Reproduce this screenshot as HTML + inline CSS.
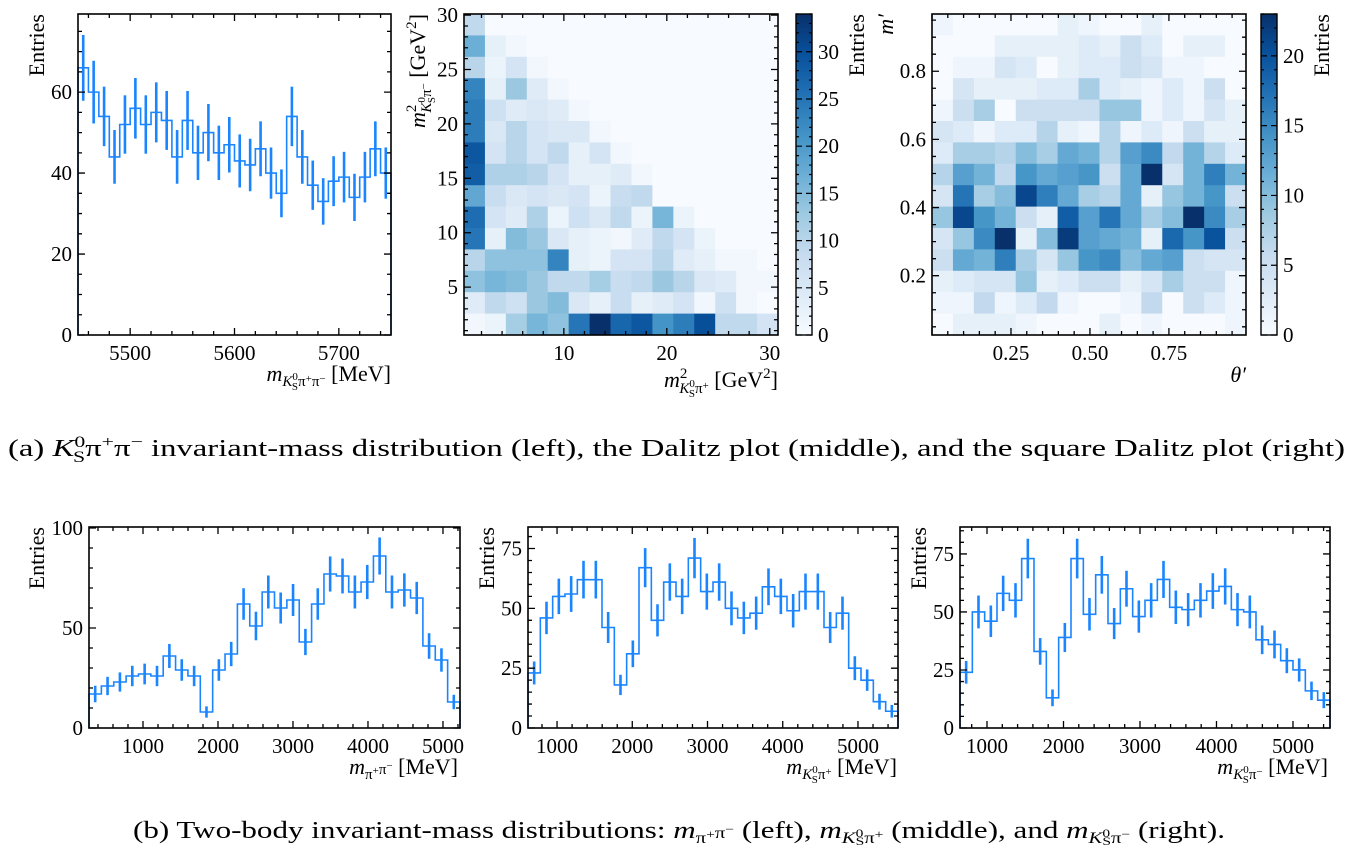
<!DOCTYPE html>
<html><head><meta charset="utf-8">
<style>
html,body{margin:0;padding:0;background:#fff;}
svg{display:block;font-family:"Liberation Serif",serif;}
</style></head>
<body>
<svg id="fig" width="1352" height="858" viewBox="0 0 1352 858" xmlns="http://www.w3.org/2000/svg">
<rect width="1352" height="858" fill="#fff"/>
<g id="layer"></g>
<text x="8" y="456" font-size="24" textLength="1337" lengthAdjust="spacingAndGlyphs">(a) <tspan font-style="italic">K</tspan><tspan font-size="16" dy="-9">0</tspan><tspan font-size="16" dx="-9" dy="15">S</tspan><tspan dy="-6">π</tspan><tspan font-size="16" dy="-9">+</tspan><tspan dy="9">π</tspan><tspan font-size="16" dy="-9">−</tspan><tspan dy="9"> invariant-mass distribution (left), the Dalitz plot (middle), and the square Dalitz plot (right)</tspan></text>
<text x="133" y="838" font-size="24" textLength="1092" lengthAdjust="spacingAndGlyphs">(b) Two-body invariant-mass distributions: <tspan font-style="italic">m</tspan><tspan font-size="16" dy="5">π</tspan><tspan font-size="12" dy="-5">+</tspan><tspan font-size="16">π</tspan><tspan font-size="12" dy="-5">−</tspan><tspan dy="5"> (left), </tspan><tspan font-style="italic">m</tspan><tspan font-size="16" font-style="italic" dy="5">K</tspan><tspan font-size="12" dy="-6">0</tspan><tspan font-size="12" dx="-6" dy="8">S</tspan><tspan font-size="16" dy="-2">π</tspan><tspan font-size="12" dy="-5">+</tspan><tspan dy="0"> (middle), and </tspan><tspan font-style="italic">m</tspan><tspan font-size="16" font-style="italic" dy="5">K</tspan><tspan font-size="12" dy="-6">0</tspan><tspan font-size="12" dx="-6" dy="8">S</tspan><tspan font-size="16" dy="-2">π</tspan><tspan font-size="12" dy="-5">−</tspan><tspan dy="0"> (right).</tspan></text>
</svg>
<script>
// ---- data ----
const massVals = [66,60,54,44,52,56,52,55,53,44,53,45,50,45,47,43,42,46,40,35,54,44,37,33,38,39,34,39,46,40];
const pipiVals = [17,21,23,26,27,26,36,29,26,8,29,37,62,51,68,60,64,43,62,77,76,68,73,86,68,69,65,41,34,13];
const kspipVals = [23,46,55,56,62,62,42,18,31,67,45,61,55,71,57,61,50,46,48,59,55,49,57,57,42,48,25,20,11,7];
const kspimVals = [24,50,46,58,55,73,33,13,39,73,49,66,45,60,48,55,64,52,51,55,59,61,51,50,38,36,29,25,16,12];
const dalitzGrid = [
[9,0,0,0,0,0,0,0,0,0,0,0,0,0,0],
[17,3,1,0,0,0,0,0,0,0,0,0,0,0,0],
[10,2,6,1,0,0,0,0,0,0,0,0,0,0,0],
[23,3,13,4,1,0,0,0,0,0,0,0,0,0,0],
[24,7,4,5,4,1,0,0,0,0,0,0,0,0,0],
[24,5,10,6,5,5,1,0,0,0,0,0,0,0,0],
[29,6,10,6,9,3,6,1,0,0,0,0,0,0,0],
[28,11,11,10,6,3,3,4,1,0,0,0,0,0,0],
[18,8,5,6,5,6,2,8,9,0,0,0,0,0,0],
[26,6,4,11,2,7,5,9,2,16,2,0,0,0,0],
[25,3,15,13,5,3,2,1,4,9,6,2,0,0,0],
[10,14,14,14,23,3,2,6,6,10,4,3,1,1,0],
[14,16,15,13,9,9,12,8,9,13,10,5,4,1,1],
[4,9,7,13,15,5,3,8,3,4,6,1,7,1,0],
[1,2,12,16,14,25,34,27,29,21,24,30,9,9,6]];
const sqGrid = [
[1,0,0,0,0,0,2,1,0,0,2,0,0,0,0],
[0,0,0,2,2,2,2,3,2,5,3,0,2,2,0],
[0,1,1,4,3,0,2,3,3,5,4,1,1,0,0],
[0,4,2,2,2,3,3,8,3,2,1,3,1,5,0],
[1,5,8,0,5,5,5,5,9,9,1,3,1,4,2],
[4,3,1,3,3,7,2,1,7,1,3,1,5,2,2],
[3,8,8,7,10,8,12,11,7,13,15,6,11,7,3],
[7,13,11,6,14,12,13,14,5,12,23,4,11,16,11],
[4,17,8,10,21,16,12,8,7,12,2,9,11,14,5],
[9,21,14,11,5,2,19,13,17,12,8,10,23,15,8],
[4,9,15,23,2,10,22,13,12,11,2,18,14,20,5],
[5,12,11,16,8,4,9,14,15,10,12,13,5,4,4],
[2,3,4,4,9,2,3,5,5,2,4,8,5,5,1],
[1,1,6,1,3,6,1,0,0,1,6,0,5,3,1],
[0,2,2,2,1,0,0,0,2,0,1,0,0,0,1]];
const massTicks = [5500,5600,5700];
const bottomTicks = [1000,2000,3000,4000,5000];

// ---- helpers ----
const NS='http://www.w3.org/2000/svg';
const layer=document.getElementById('layer');
function mk(tag,attrs,parent){const e=document.createElementNS(NS,tag);for(const k in attrs)e.setAttribute(k,attrs[k]);(parent||layer).appendChild(e);return e;}
const BLUE='#1a85ff';
const TF=21;
const stops=[[0,[247,251,255]],[0.125,[222,235,247]],[0.25,[198,219,239]],[0.375,[158,202,225]],[0.5,[107,174,214]],[0.625,[66,146,198]],[0.75,[33,113,181]],[0.875,[8,81,156]],[1,[8,48,107]]];
function blues(t){t=Math.max(0,Math.min(1,t));for(let i=1;i<stops.length;i++){if(t<=stops[i][0]){const a=stops[i-1],b=stops[i];const f=(t-a[0])/(b[0]-a[0]);const c=a[1].map((v,j)=>Math.round(v+(b[1][j]-v)*f));return `rgb(${c[0]},${c[1]},${c[2]})`;}}return 'rgb(8,48,107)';}

function axes(p,name){
  const g=mk('g',{});
  
  
  p.g=g;
  p.sx=v=>p.x0+(v-p.xmin)/(p.xmax-p.xmin)*(p.x1-p.x0);
  p.sy=v=>p.y1-(v-p.ymin)/(p.ymax-p.ymin)*(p.y1-p.y0);
  return g;
}
function frame(p){
  const g=p.g;
  mk('rect',{x:p.x0,y:p.y0,width:p.x1-p.x0,height:p.y1-p.y0,fill:'none',stroke:'#000','stroke-width':1.6},g);
  let d='';
  const eps=1e-9;
  for(let v=Math.ceil((p.xmin-eps)/p.xminor)*p.xminor;v<=p.xmax+eps;v+=p.xminor){
    const x=p.sx(v);const maj=Math.abs(v/p.xmajor-Math.round(v/p.xmajor))<1e-6;const L=maj?7:4;
    d+=`M${x},${p.y1}v${-L}M${x},${p.y0}v${L}`;
  }
  for(let v=Math.ceil((p.ymin-eps)/p.yminor)*p.yminor;v<=p.ymax+eps;v+=p.yminor){
    const y=p.sy(v);const maj=Math.abs(v/p.ymajor-Math.round(v/p.ymajor))<1e-6;const L=maj?7:4;
    d+=`M${p.x0},${y}h${L}M${p.x1},${y}h${-L}`;
  }
  mk('path',{d,stroke:'#000','stroke-width':1.3,fill:'none'},g);
  p.xt.forEach(v=>{const t=mk('text',{x:p.sx(v),y:p.y1+25,'font-size':TF,'text-anchor':'middle'},g);t.textContent=p.xfmt?p.xfmt(v):v;
    
    });
  p.yt.forEach(v=>{const t=mk('text',{x:p.x0-6,y:p.sy(v)+7,'font-size':TF,'text-anchor':'end'},g);t.textContent=p.yfmt?p.yfmt(v):v;
    
    });
}
function hist(p,vals){
  const n=vals.length,w=(p.hmax-p.hmin)/n;
  let d=`M${p.sx(p.hmin)},${p.sy(0)}`;
  vals.forEach((v,i)=>{d+=`V${p.sy(v)}H${p.sx(p.hmin+(i+1)*w)}`;});
  d+=`V${p.sy(0)}`;
  const path=mk('path',{d,stroke:BLUE,'stroke-width':1.6,fill:'none'},p.g);
  
  
  vals.forEach((v,i)=>{
    const xc=p.sx(p.hmin+(i+0.5)*w),e=Math.sqrt(v);
    const l=mk('line',{x1:xc,x2:xc,y1:p.sy(v-e),y2:p.sy(Math.min(v+e,p.ymax)),stroke:BLUE,'stroke-width':2.6},p.g);
    
    
  });
}
function heat(p,grid,vmax){
  const nr=grid.length,nc=grid[0].length;
  const cw=(p.x1-p.x0)/nc,ch=(p.y1-p.y0)/nr;
  grid.forEach((row,r)=>row.forEach((v,c)=>{
    const rc=mk('rect',{x:p.x0+c*cw,y:p.y0+r*ch,width:cw+0.4,height:ch+0.4,fill:blues(v/vmax)},p.g);
    
    
  }));
}
function colorbar(cx0,cx1,y0,y1,vmax,ticks,id,name){
  const g=mk('g',{});
  
  
  const defs=mk('defs',{},g);
  const lg=mk('linearGradient',{id,x1:0,y1:1,x2:0,y2:0},defs);
  stops.forEach(s=>mk('stop',{offset:s[0],'stop-color':`rgb(${s[1].join(',')})`},lg));
  mk('rect',{x:cx0,y:y0,width:cx1-cx0,height:y1-y0,fill:`url(#${id})`,stroke:'#000','stroke-width':1.4},g);
  const sy=v=>y1-v/vmax*(y1-y0);
  let d='';
  for(let v=0;v<=vmax;v+=1){const y=sy(v);const L=v%5===0?6:3;d+=`M${cx0},${y}h${L}M${cx1},${y}h${-L}`;}
  mk('path',{d,stroke:'#000','stroke-width':1.2},g);
  ticks.forEach(v=>{const t=mk('text',{x:cx1+6,y:sy(v)+7,'font-size':TF},g);t.textContent=v;});
  const lab=mk('text',{'font-size':22,'text-anchor':'end',transform:`translate(${cx1+52},${y0}) rotate(-90)`},g);
  lab.textContent='Entries';
}
function ylabel(x,y,html,name,size){
  const t=mk('text',{'font-size':size||22,'text-anchor':'end',transform:`translate(${x},${y}) rotate(-90)`});
  t.innerHTML=html;
  
  
}
function xlabel(x,y,html,name){
  const t=mk('text',{x,y,'font-size':22,'text-anchor':'end'});
  t.innerHTML=html;
  
  
}

// ---- panel 1: B mass ----
const p1={x0:78,x1:391,y0:14,y1:335,xmin:5450,xmax:5750,ymin:0,ymax:79.3,hmin:5450,hmax:5750,xmajor:100,xminor:20,ymajor:20,yminor:5,xt:massTicks,yt:[0,20,40,60]};
axes(p1,'mass-histogram-panel');hist(p1,massVals);frame(p1);
ylabel(44,14,'Entries','y-axis-title');
xlabel(391,381,'<tspan font-style="italic">m</tspan><tspan font-size="15" font-style="italic" dy="5">K</tspan><tspan font-size="11" dy="-6">0</tspan><tspan font-size="11" dx="-6" dy="10">S</tspan><tspan font-size="15" dy="-4">π</tspan><tspan font-size="11" dy="-4">+</tspan><tspan font-size="15" dy="4">π</tspan><tspan font-size="11" dy="-4">−</tspan><tspan dy="-1"> [MeV]</tspan>','x-axis-title');

// ---- panel 2: Dalitz ----
const p2={x0:464,x1:778,y0:14,y1:335,xmin:0.3,xmax:30.8,ymin:0.6,ymax:30.1,xmajor:10,xminor:2,ymajor:5,yminor:1,xt:[10,20,30],yt:[5,10,15,20,25,30]};
axes(p2,'dalitz-plot-panel');heat(p2,dalitzGrid,34);frame(p2);
colorbar(796,812,14,335,34,[0,5,10,15,20,25,30],'cb1','dalitz-colorbar');
ylabel(425,14,'<tspan font-style="italic">m</tspan><tspan font-size="15" dy="-9">2</tspan><tspan font-size="15" font-style="italic" dx="-8" dy="15">K</tspan><tspan font-size="11" dy="-6">0</tspan><tspan font-size="11" dx="-6" dy="10">S</tspan><tspan font-size="15" dy="-4">π</tspan><tspan font-size="11" dy="-4">−</tspan><tspan dy="-2"> [GeV</tspan><tspan font-size="15" dy="-9">2</tspan><tspan dy="9">]</tspan>','y-axis-title');
xlabel(778,387,'<tspan font-style="italic">m</tspan><tspan font-size="15" dy="-9">2</tspan><tspan font-size="15" font-style="italic" dx="-8" dy="15">K</tspan><tspan font-size="11" dy="-6">0</tspan><tspan font-size="11" dx="-6" dy="10">S</tspan><tspan font-size="15" dy="-4">π</tspan><tspan font-size="11" dy="-4">+</tspan><tspan dy="-2"> [GeV</tspan><tspan font-size="15" dy="-9">2</tspan><tspan dy="9">]</tspan>','x-axis-title');

// ---- panel 3: square Dalitz ----
const p3={x0:932,x1:1246,y0:14,y1:335,xmin:0,xmax:0.994,ymin:0.026,ymax:0.968,xmajor:0.25,xminor:0.05,ymajor:0.2,yminor:0.05,xt:[0.25,0.5,0.75],yt:[0.2,0.4,0.6,0.8],xfmt:v=>v.toFixed(2),yfmt:v=>v.toFixed(1)};
axes(p3,'square-dalitz-panel');heat(p3,sqGrid,23);frame(p3);
colorbar(1261,1277,14,335,23,[0,5,10,15,20],'cb2','square-dalitz-colorbar');
ylabel(893,14,'<tspan font-style="italic">m′</tspan>','y-axis-title');
xlabel(1246,382,'<tspan font-style="italic">θ′</tspan>','x-axis-title');

// ---- bottom panels ----
const p4={x0:89,x1:460,y0:527,y1:728,xmin:280,xmax:5227,ymin:0,ymax:100.5,hmin:280,hmax:5227,xmajor:1000,xminor:200,ymajor:50,yminor:10,xt:bottomTicks,yt:[0,50,100]};
axes(p4,'pipi-mass-panel');hist(p4,pipiVals);frame(p4);
ylabel(44,527,'Entries','y-axis-title');
xlabel(458,774,'<tspan font-style="italic">m</tspan><tspan font-size="15" dy="5">π</tspan><tspan font-size="11" dy="-5">+</tspan><tspan font-size="15" dy="0">π</tspan><tspan font-size="11" dy="-5">−</tspan><tspan dy="5"> [MeV]</tspan>','x-axis-title');

const p5={x0:528,x1:898,y0:527,y1:728,xmin:614,xmax:5532,ymin:0,ymax:84,hmin:614,hmax:5532,xmajor:1000,xminor:200,ymajor:25,yminor:5,xt:bottomTicks,yt:[0,25,50,75]};
axes(p5,'kspiplus-mass-panel');hist(p5,kspipVals);frame(p5);
ylabel(494,527,'Entries','y-axis-title');
xlabel(897,774,'<tspan font-style="italic">m</tspan><tspan font-size="15" font-style="italic" dy="5">K</tspan><tspan font-size="11" dy="-6">0</tspan><tspan font-size="11" dx="-6" dy="10">S</tspan><tspan font-size="15" dy="-4">π</tspan><tspan font-size="11" dy="-4">+</tspan><tspan dy="-1"> [MeV]</tspan>','x-axis-title');

const p6={x0:960,x1:1330,y0:527,y1:728,xmin:647,xmax:5484,ymin:0,ymax:86.6,hmin:647,hmax:5484,xmajor:1000,xminor:200,ymajor:25,yminor:5,xt:bottomTicks,yt:[0,25,50,75]};
axes(p6,'kspiminus-mass-panel');hist(p6,kspimVals);frame(p6);
ylabel(926,527,'Entries','y-axis-title');
xlabel(1328,774,'<tspan font-style="italic">m</tspan><tspan font-size="15" font-style="italic" dy="5">K</tspan><tspan font-size="11" dy="-6">0</tspan><tspan font-size="11" dx="-6" dy="10">S</tspan><tspan font-size="15" dy="-4">π</tspan><tspan font-size="11" dy="-4">−</tspan><tspan dy="-1"> [MeV]</tspan>','x-axis-title');
</script>
</body></html>
